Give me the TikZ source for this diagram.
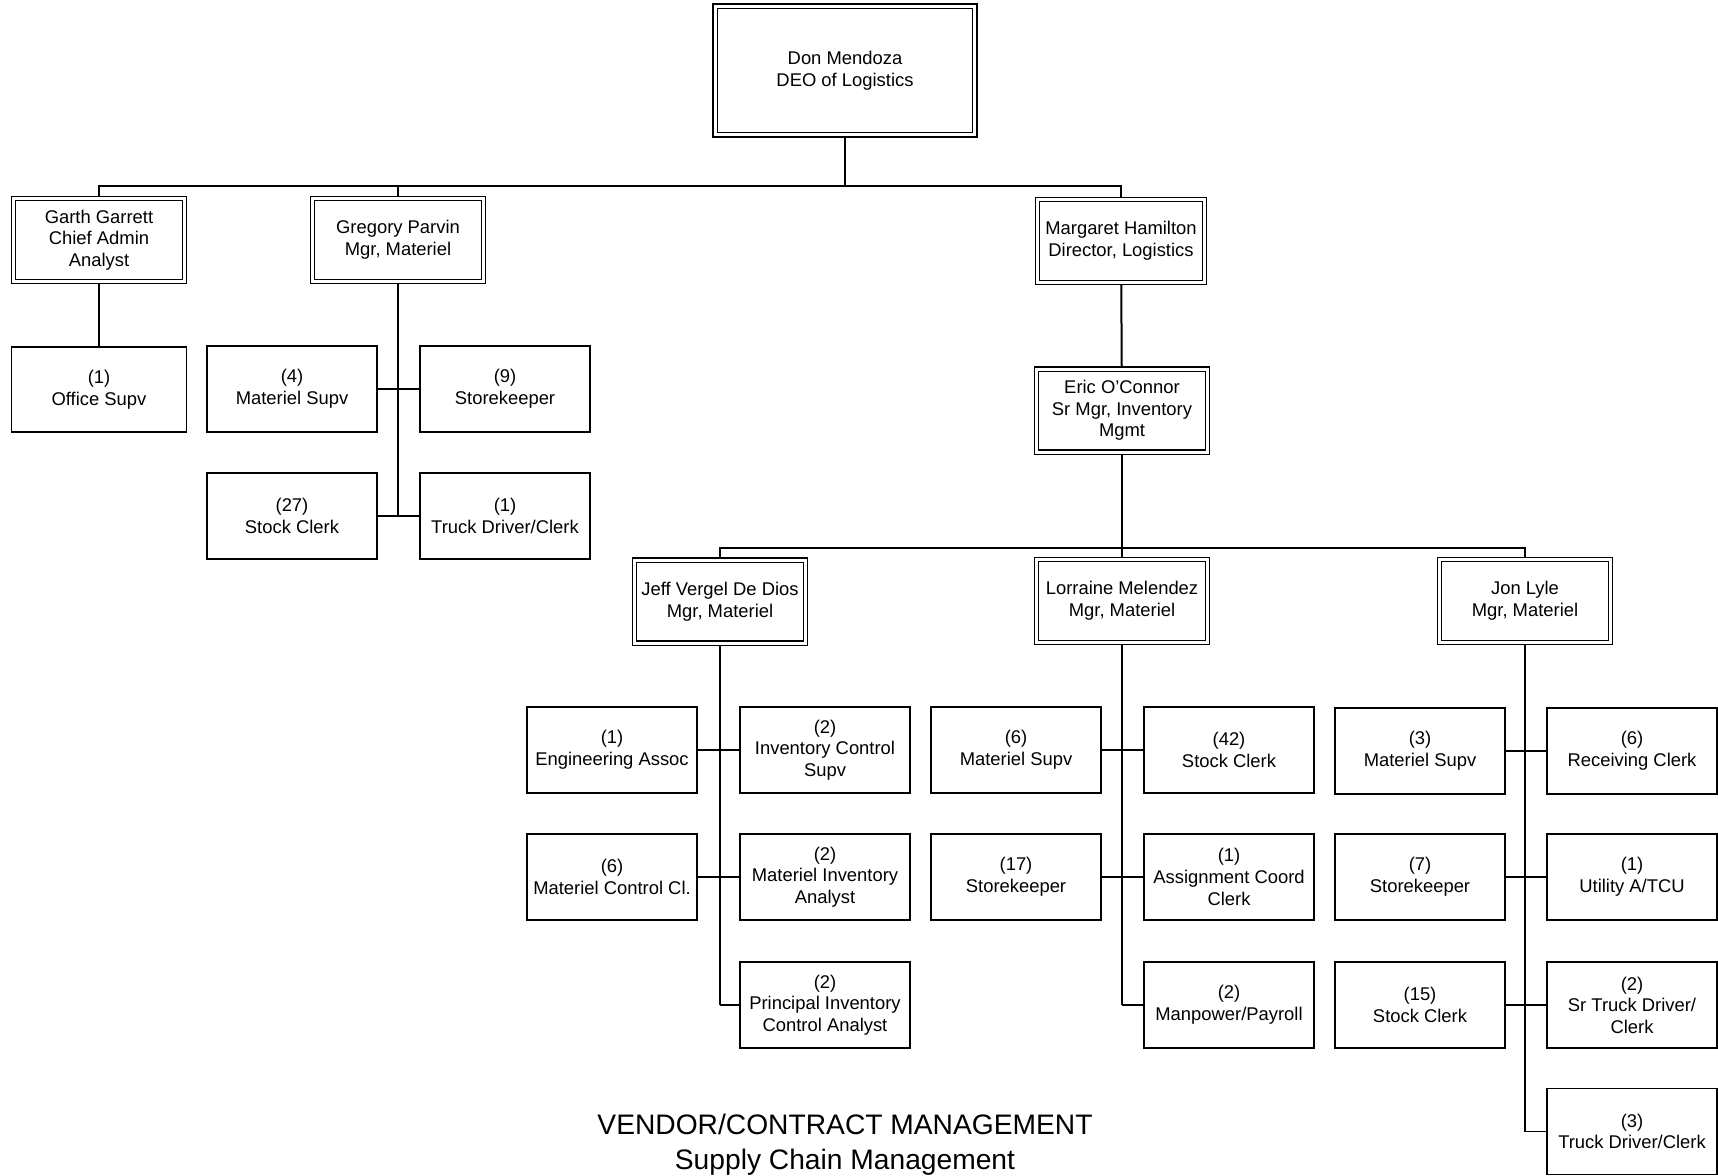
\documentclass[tikz,border=0pt]{standalone}
\usepackage{fontspec}
\setmainfont{Liberation Sans}
\begin{document}
\begin{tikzpicture}[x=0.5pt,y=-0.5pt,
    mgr/.style={draw,double,double distance=1.5pt,line width=0.6pt,outer sep=1.35pt,
      align=center,inner sep=1pt,minimum width=85.5pt,minimum height=41.5pt,
      font=\fontsize{9.2}{10.8}\selectfont},
    staff/.style={draw,line width=0.6pt,align=center,inner sep=1pt,
      minimum width=85pt,minimum height=43pt,font=\fontsize{9.2}{10.8}\selectfont},
    spine/.style={line width=1pt},
    link/.style={line width=0.7pt}]
  \useasboundingbox (0,0) rectangle (1718,1175);

  \node[mgr,minimum width=129.9pt,minimum height=64.4pt] (don) at (845,70.5) {Don Mendoza\\DEO of Logistics};
  \node[mgr] (garth) at (99,240) {Garth Garrett\\Chief Admin\\Analyst};
  \node[mgr] (greg) at (398,240) {Gregory Parvin\\Mgr, Materiel};
  \node[mgr,minimum width=83.4pt] (marg) at (1121,241) {Margaret Hamilton\\Director, Logistics};
  \node[mgr] (eric) at (1122,410.5) {Eric O'Connor\\Sr Mgr, Inventory\\Mgmt};
  \node[mgr] (jeff) at (720,601.5) {Jeff Vergel De Dios\\Mgr, Materiel};
  \node[mgr] (lorr) at (1122,601) {Lorraine Melendez\\Mgr, Materiel};
  \node[mgr] (jon) at (1525,601) {Jon Lyle\\Mgr, Materiel};

  \node[staff,minimum width=87.5pt,minimum height=42.5pt] (office) at (99,389.5) {(1)\\Office Supv};
  \node[staff] (gpms) at (292,389) {(4)\\Materiel Supv};
  \node[staff] (gpsk) at (505,389) {(9)\\Storekeeper};
  \node[staff] (gpsc) at (292,516) {(27)\\Stock Clerk};
  \node[staff] (gptd) at (505,516) {(1)\\Truck Driver/Clerk};

  \node[staff] (jea) at (612,750) {(1)\\Engineering Assoc};
  \node[staff] (jic) at (825,750) {(2)\\Inventory Control\\Supv};
  \node[staff] (jmc) at (612,877) {(6)\\Materiel Control Cl.};
  \node[staff] (jmi) at (825,877) {(2)\\Materiel Inventory\\Analyst};
  \node[staff] (jpi) at (825,1005) {(2)\\Principal Inventory\\Control Analyst};

  \node[staff] (lms) at (1016,750) {(6)\\Materiel Supv};
  \node[staff] (lsc) at (1229,750) {(42)\\Stock Clerk};
  \node[staff] (lsk) at (1016,877) {(17)\\Storekeeper};
  \node[staff] (lac) at (1229,877) {(1)\\Assignment Coord\\Clerk};
  \node[staff] (lmp) at (1229,1005) {(2)\\Manpower/Payroll};

  \node[staff] (yms) at (1420,751) {(3)\\Materiel Supv};
  \node[staff] (yrc) at (1632,751) {(6)\\Receiving Clerk};
  \node[staff] (ysk) at (1420,877) {(7)\\Storekeeper};
  \node[staff] (yut) at (1632,877) {(1)\\Utility A/TCU};
  \node[staff] (ysc) at (1420,1005) {(15)\\Stock Clerk};
  \node[staff] (yst) at (1632,1005) {(2)\\Sr Truck Driver/\\Clerk};
  \node[staff] (ytd) at (1632,1131.5) {(3)\\Truck Driver/Clerk};

  \node[align=center,font=\fontsize{14.1}{17.5}\selectfont] (title) at (845,1145) {VENDOR/CONTRACT MANAGEMENT\\Supply Chain Management};

  \coordinate (bus1) at (845,186);
  \coordinate (bus2) at (1122,548);

  \draw[spine] (don) -- (bus1);
  \draw[spine] (garth.north) |- (bus1);
  \draw[spine] (marg.north) |- (bus1);
  \draw[spine] (greg.north) -- (greg.north |- bus1);
  \draw[link] (garth) -- (office);
  \draw[spine] (marg) -- (eric);

  \draw[spine] (eric) -- (bus2);
  \draw[spine] (jeff.north) |- (bus2);
  \draw[spine] (jon.north) |- (bus2);
  \draw[spine] (lorr) -- (bus2);

  \draw[spine] (greg.south) -- (greg |- gptd);
  \draw[link] (gpms) -- (gpms -| greg);
  \draw[link] (gpsk) -- (gpsk -| greg);
  \draw[link] (gpsc) -- (gpsc -| greg);
  \draw[link] (gptd) -- (gptd -| greg);

  \draw[spine] (jeff.south) -- (jeff |- jpi);
  \draw[link] (jea) -- (jea -| jeff);
  \draw[link] (jic) -- (jic -| jeff);
  \draw[link] (jmc) -- (jmc -| jeff);
  \draw[link] (jmi) -- (jmi -| jeff);
  \draw[link] (jpi) -- (jpi -| jeff);

  \draw[spine] (lorr.south) -- (lorr |- lmp);
  \draw[link] (lms) -- (lms -| lorr);
  \draw[link] (lsc) -- (lsc -| lorr);
  \draw[link] (lsk) -- (lsk -| lorr);
  \draw[link] (lac) -- (lac -| lorr);
  \draw[link] (lmp) -- (lmp -| lorr);

  \draw[spine] (jon.south) -- (jon |- ytd);
  \draw[link] (yms) -- (yms -| jon);
  \draw[link] (yrc) -- (yrc -| jon);
  \draw[link] (ysk) -- (ysk -| jon);
  \draw[link] (yut) -- (yut -| jon);
  \draw[link] (ysc) -- (ysc -| jon);
  \draw[link] (yst) -- (yst -| jon);
  \draw[link] (ytd) -- (ytd -| jon);
\end{tikzpicture}
\end{document}
